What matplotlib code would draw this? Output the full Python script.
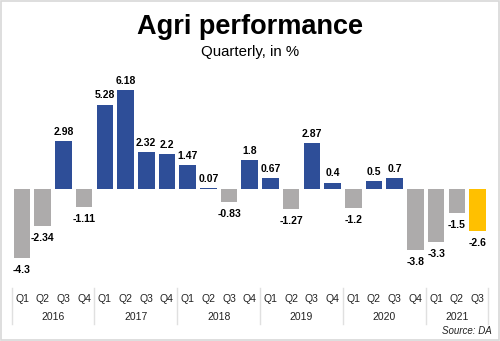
import matplotlib

matplotlib.use("Agg")
from matplotlib import pyplot as plt
from matplotlib.patches import Rectangle

years = ["2016", "2017", "2018", "2019", "2020", "2021"]
quarters = ["Q1", "Q2", "Q3", "Q4"] * 5 + ["Q1", "Q2", "Q3"]
values = [-4.3, -2.34, 2.98, -1.11,
          5.28, 6.18, 2.32, 2.2,
          1.47, 0.07, -0.83, 1.8,
          0.67, -1.27, 2.87, 0.4,
          -1.2, 0.5, 0.7, -3.8,
          -3.3, -1.5, -2.6]
value_labels = ["-4.3", "-2.34", "2.98", "-1.11",
                "5.28", "6.18", "2.32", "2.2",
                "1.47", "0.07", "-0.83", "1.8",
                "0.67", "-1.27", "2.87", "0.4",
                "-1.2", "0.5", "0.7", "-3.8",
                "-3.3", "-1.5", "-2.6"]

BLUE = "#2E4E98"
GRAY = "#ADABAB"
YELLOW = "#FFC000"
plt.rcParams["font.family"] = ["Liberation Sans", "DejaVu Sans"]

W, H = 500, 341
fig = plt.figure(figsize=(W / 100, H / 100), dpi=100)
fig.patches.append(Rectangle((0.002, 0.003), 0.995, 0.994, transform=fig.transFigure,
                             fill=False, edgecolor="#D8D8D8", linewidth=1.2))

# axes spans px 10..490 horizontally, 80..270 vertically
ax = fig.add_axes([10 / W, 1 - 270 / H, 480 / W, 190 / H])
ax.set_axis_off()
px_unit = 16.0
zero_y = 189
ax.set_ylim(-(270 - zero_y) / px_unit, (zero_y - 80) / px_unit)
step = 20.7
ax.set_xlim(-(22 - 10) / step, 22 + (490 - 477.5) / step)

n = len(values)
colors = [BLUE if v > 0 else GRAY for v in values]
colors[-1] = YELLOW
xs = list(range(n))
ax.bar(xs, values, width=0.8, color=colors)
for x, v, lab in zip(xs, values, value_labels):
    if v >= 0:
        ax.annotate(lab, (x, v), xytext=(0, 3), textcoords="offset points",
                    ha="center", va="bottom", fontsize=7.5, fontweight="bold")
    else:
        ax.annotate(lab, (x, v), xytext=(0, -5), textcoords="offset points",
                    ha="center", va="top", fontsize=7.5, fontweight="bold")

# category axis drawn below in figure coords
def fx(i):
    return (22 + i * step) / W

for x, q in zip(xs, quarters):
    fig.text(fx(x), 1 - 299 / H, q, ha="center", va="center", fontsize=7.5, color="#222222")
for k, yr in enumerate(years):
    start = k * 4
    end = min(start + 3, n - 1)
    fig.text((fx(start) + fx(end)) / 2, 1 - 317 / H, yr, ha="center", va="center",
             fontsize=7.5, color="#222222")
seps = [fx(-0.5)] + [fx(k * 4 - 0.5) for k in range(1, 6)] + [fx(n - 0.5)]
for sx in seps:
    fig.add_artist(plt.Line2D([sx, sx], [1 - 288 / H, 1 - 324 / H],
                              transform=fig.transFigure, color="#E0E0E0", linewidth=1))

fig.text(0.5, 1 - 27 / H, "Agri performance", ha="center", va="center",
         fontsize=19.5, fontweight="heavy")
fig.text(0.5, 1 - 52 / H, "Quarterly, in %", ha="center", va="center", fontsize=10.8)
fig.text(492 / W, 1 - 331 / H, "Source: DA", ha="right", va="center",
         fontsize=7, style="italic", color="#222222")

fig.savefig("out.png", dpi=100)
